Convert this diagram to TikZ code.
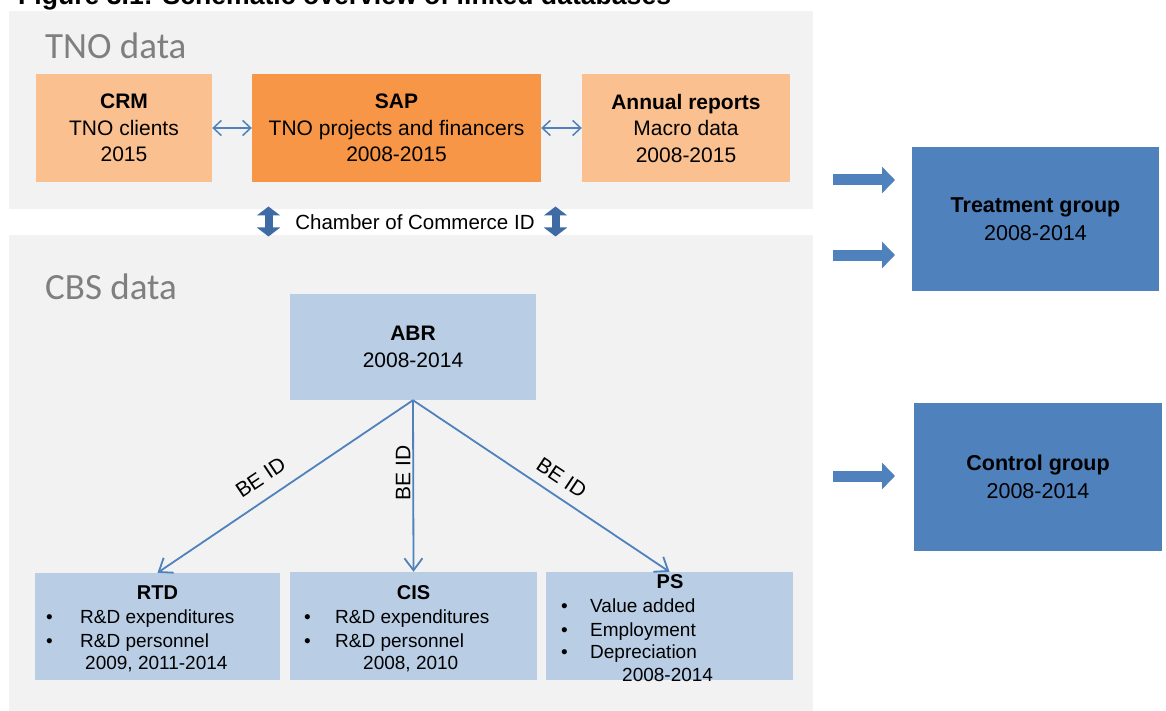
\documentclass[tikz,border=0pt]{standalone}
\usepackage{fontspec}
\setmainfont{Liberation Sans}
\newfontfamily\carlito{Carlito}
\usetikzlibrary{arrows.meta,calc}
\definecolor{panelgrey}{HTML}{F2F2F2}
\definecolor{lightorange}{HTML}{FAC090}
\definecolor{darkorange}{HTML}{F79646}
\definecolor{lightblue}{HTML}{B9CDE5}
\definecolor{midblue}{HTML}{4F81BD}
\definecolor{blockblue}{HTML}{3E6BA4}
\definecolor{greytext}{HTML}{7F7F7F}
\tikzset{
  panelbox/.style={fill=panelgrey, draw=none, inner sep=0pt, anchor=north west},
  box/.style={draw=none, inner sep=0pt, align=center, font=\fontsize{21}{26.5}\selectfont},
  smalltxt/.style={inner sep=0pt, font=\fontsize{19}{22}\selectfont},
  smalltitle/.style={inner sep=0pt, anchor=base, font=\bfseries\fontsize{20}{22}\selectfont},
  panellabel/.style={anchor=west, inner sep=0pt, text=greytext, font=\carlito\fontsize{37}{40}\selectfont},
  thinlink/.style={draw=midblue, line width=1.5pt, {Straight Barb[length=8pt,width=15pt]}-{Straight Barb[length=8pt,width=15pt]}},
  belink/.style={draw=midblue, line width=1.8pt, -{Straight Barb[length=12pt,width=18pt]}},
  belabel/.style={inner sep=1pt, font=\fontsize{21}{24}\selectfont},
  fatarrow/.style={draw=midblue, line width=11pt, -{Triangle[length=13pt,width=26pt]}},
  updown/.style={draw=blockblue, line width=8pt, {Triangle[length=9pt,width=23pt]}-{Triangle[length=9pt,width=23pt]}}
}
\begin{document}
\begin{tikzpicture}[x=1pt,y=-1pt]
\fill[white] (0,0) rectangle (1166,711);
\useasboundingbox (0,0) rectangle (1166,711);

% title (cut off at top)
\node[anchor=base west, inner sep=0pt, font=\bfseries\fontsize{26.6}{30}\selectfont] (title) at (18,5) {Figure 3.1: Schematic overview of linked databases};

% panels
\node[panelbox, minimum width=804pt, minimum height=198pt] (tnopanel) at (9,11) {};
\node[panelbox, minimum width=804pt, minimum height=476pt] (cbspanel) at (9,235) {};
\node[panellabel] (tnolabel) at (45,46) {TNO data};
\node[panellabel] (cbslabel) at (45,287) {CBS data};

% TNO boxes
\node[box, fill=lightorange, minimum width=176pt, minimum height=108pt] (crm) at (124,128)
  {\textbf{CRM}\\TNO clients\\2015};
\node[box, fill=darkorange, minimum width=289pt, minimum height=108pt] (sap) at (396.5,128)
  {\textbf{SAP}\\TNO projects and financers\\2008-2015};
\node[box, fill=lightorange, minimum width=208pt, minimum height=108pt] (annual) at (686,128)
  {\textbf{Annual reports}\\Macro data\\2008-2015};
\draw[thinlink] (crm.east) -- (sap.west);
\draw[thinlink] (sap.east) -- (annual.west);

% chamber of commerce
\node[inner sep=0pt, font=\fontsize{20.5}{24}\selectfont] (coc) at (415,222) {Chamber of Commerce ID};
\coordinate (ua1) at (268.5,206.5);
\coordinate (ua2) at (268.5,236.5);
\coordinate (ub1) at (555.5,206.5);
\coordinate (ub2) at (555.5,236.5);
\draw[updown] (ua1) -- (ua2);
\draw[updown] (ub1) -- (ub2);

% CBS boxes
\node[box, fill=lightblue, minimum width=246pt, minimum height=106pt] (abr) at (413,347)
  {\textbf{ABR}\\2008-2014};
\node[box, fill=lightblue, minimum width=245pt, minimum height=107pt] (rtd) at (157.5,626.5) {};
\node[box, fill=lightblue, minimum width=247pt, minimum height=108pt] (cis) at (413.5,626) {};
\node[box, fill=lightblue, minimum width=247pt, minimum height=108pt] (ps) at (669.5,626) {};

\draw[belink] (abr.south) -- (rtd.north);
\draw[belink] (abr.south) -- (cis.north);
\draw[belink] (abr.south) -- (ps.north);
\node[belabel, rotate=33.8] (l1) at ($(abr.south)!0.55!(rtd.north)+(-11.9,-17.6)$) {BE ID};
\node[belabel, rotate=90] (l2) at ($(abr.south)!0.424!(cis.north)+(-10,0)$) {BE ID};
\node[belabel, rotate=-33.8] (l3) at ($(abr.south)!0.54!(ps.north)+(10.1,-15.1)$) {BE ID};

% RTD contents
\node[smalltitle] (rtdt) at (157.5,599) {RTD};
\node[smalltxt, anchor=base west] (rtdb1) at (46,623) {•};
\node[smalltxt, anchor=base west] (rtdi1) at (80,623) {R\&D expenditures};
\node[smalltxt, anchor=base west] (rtdb2) at (46,647) {•};
\node[smalltxt, anchor=base west] (rtdi2) at (80,647) {R\&D personnel};
\node[smalltxt, anchor=base west] (rtdy) at (85,669) {2009, 2011-2014};

% CIS contents
\node[smalltitle] (cist) at (413.5,599) {CIS};
\node[smalltxt, anchor=base west] (cisb1) at (304,623) {•};
\node[smalltxt, anchor=base west] (cisi1) at (335,623) {R\&D expenditures};
\node[smalltxt, anchor=base west] (cisb2) at (304,647) {•};
\node[smalltxt, anchor=base west] (cisi2) at (335,647) {R\&D personnel};
\node[smalltxt, anchor=base west] (cisy) at (363,669) {2008, 2010};

% PS contents
\node[smalltitle] (pst) at (670,588) {PS};
\node[smalltxt, anchor=base west] (psb1) at (561,612) {•};
\node[smalltxt, anchor=base west] (psi1) at (590,612) {Value added};
\node[smalltxt, anchor=base west] (psb2) at (561,636) {•};
\node[smalltxt, anchor=base west] (psi2) at (590,636) {Employment};
\node[smalltxt, anchor=base west] (psb3) at (561,658) {•};
\node[smalltxt, anchor=base west] (psi3) at (590,658) {Depreciation};
\node[smalltxt, anchor=base west] (psy) at (622,681) {2008-2014};

% right side
\node[box, fill=midblue, minimum width=247pt, minimum height=143pt, font=\fontsize{21.5}{28}\selectfont] (treat) at (1035.5,219)
  {\textbf{Treatment group}\\2008-2014};
\node[box, fill=midblue, minimum width=248pt, minimum height=148pt, font=\fontsize{21.5}{28}\selectfont] (control) at (1038,477)
  {\textbf{Control group}\\2008-2014};
\coordinate (a1s) at (833,180);
\coordinate (a1e) at (895,180);
\coordinate (a2s) at (833,255);
\coordinate (a2e) at (895,255);
\coordinate (a3s) at (833,476);
\coordinate (a3e) at (895,476);
\draw[fatarrow] (a1s) -- (a1e);
\draw[fatarrow] (a2s) -- (a2e);
\draw[fatarrow] (a3s) -- (a3e);
\end{tikzpicture}
\end{document}
